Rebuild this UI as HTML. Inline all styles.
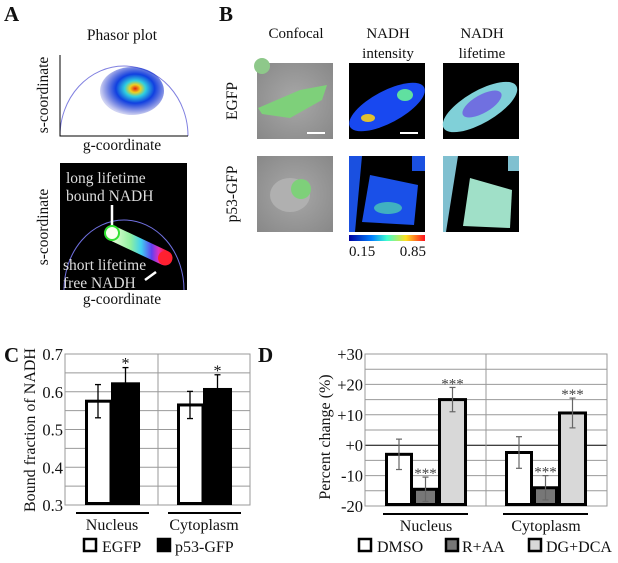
<!DOCTYPE html>
<html><head><meta charset="utf-8"><style>
body{margin:0;background:#fff;}
svg text{font-family:"Liberation Serif",serif;fill:#111;}
</style></head><body>
<svg id="fig" width="618" height="558" viewBox="0 0 618 558" xmlns="http://www.w3.org/2000/svg">
<defs>
<radialGradient id="blob" cx="0.55" cy="0.45" r="0.55">
<stop offset="0" stop-color="#e02010"/><stop offset="0.15" stop-color="#f0d020"/><stop offset="0.3" stop-color="#30d0e0"/><stop offset="0.55" stop-color="#1040e0"/><stop offset="1" stop-color="#1020c0" stop-opacity="0.2"/></radialGradient>
<linearGradient id="pill" x1="0" x2="1"><stop offset="0" stop-color="#e8ffd8"/><stop offset="0.35" stop-color="#90f0a0"/><stop offset="0.55" stop-color="#40d0f0"/><stop offset="0.75" stop-color="#6040f0"/><stop offset="0.88" stop-color="#e030c0"/><stop offset="1" stop-color="#ff2030"/></linearGradient>
<linearGradient id="cbar" x1="0" x2="1"><stop offset="0" stop-color="#0000a0"/><stop offset="0.3" stop-color="#0080ff"/><stop offset="0.5" stop-color="#40ffd0"/><stop offset="0.75" stop-color="#ffe020"/><stop offset="1" stop-color="#ff1020"/></linearGradient>
<radialGradient id="gray" cx="0.5" cy="0.5" r="0.7"><stop offset="0" stop-color="#a8a8a8"/><stop offset="1" stop-color="#888"/></radialGradient>
</defs>

<!-- Panel A -->
<text x="4" y="21" font-size="21" font-weight="bold">A</text>
<text x="122" y="40" font-size="15.5" text-anchor="middle">Phasor plot</text>
<g>
<path d="M60,136 A64,70 0 0 1 188,136" fill="none" stroke="#8080e0" stroke-width="1"/>
<ellipse cx="132" cy="91" rx="32" ry="24" fill="url(#blob)"/>
<path d="M60,55 L60,136 L188,136" fill="none" stroke="#000" stroke-width="1"/>
</g>
<text x="122" y="150" font-size="15.5" text-anchor="middle">g-coordinate</text>
<text transform="translate(48,95) rotate(-90)" font-size="15.5" text-anchor="middle">s-coordinate</text>
<g>
<rect x="60" y="163" width="127" height="127" fill="#000"/>
<path d="M64,290 A60,70 0 0 1 184,290" fill="none" stroke="#7070e0" stroke-width="1"/>
<line x1="112" y1="205" x2="112" y2="226" stroke="#fff" stroke-width="2.5"/>
<line x1="112" y1="233" x2="165" y2="258" stroke="url(#pill)" stroke-width="15" stroke-linecap="round"/>
<circle cx="112" cy="233" r="7" fill="#f8fff0" stroke="#30e030" stroke-width="2"/>
<circle cx="165" cy="258" r="7" fill="#ff2030"/>
<line x1="145" y1="280" x2="156" y2="272" stroke="#fff" stroke-width="2.5"/>
<text x="66" y="183" font-size="15.5" style="fill:#ddd">long lifetime</text>
<text x="66" y="201" font-size="15.5" style="fill:#ddd">bound NADH</text>
<text x="63" y="270" font-size="15.5" style="fill:#ddd">short lifetime</text>
<text x="63" y="288" font-size="15.5" style="fill:#ddd">free NADH</text>
</g>
<text x="122" y="304" font-size="15.5" text-anchor="middle">g-coordinate</text>
<text transform="translate(48,227) rotate(-90)" font-size="15.5" text-anchor="middle">s-coordinate</text>

<!-- Panel B -->
<text x="219" y="21" font-size="21" font-weight="bold">B</text>
<text x="296" y="38" font-size="15" text-anchor="middle">Confocal</text>
<text x="388" y="38" font-size="15" text-anchor="middle">NADH</text>
<text x="388" y="58" font-size="15" text-anchor="middle">intensity</text>
<text x="482" y="38" font-size="15" text-anchor="middle">NADH</text>
<text x="482" y="58" font-size="15" text-anchor="middle">lifetime</text>
<text transform="translate(237,101) rotate(-90)" font-size="15.5" text-anchor="middle">EGFP</text>
<text transform="translate(237,194) rotate(-90)" font-size="15.5" text-anchor="middle">p53-GFP</text>
<g>
<rect x="257" y="63" width="76" height="76" fill="url(#gray)"/>
<path d="M258,108 L300,90 L327,85 L322,100 L290,118 L262,114 Z" fill="#7ed07a"/>
<circle cx="262" cy="66" r="8" fill="#8ec88a"/>
<line x1="307" y1="133" x2="325" y2="133" stroke="#fff" stroke-width="2"/>
</g>
<g>
<rect x="349" y="63" width="76" height="76" fill="#000"/>
<ellipse cx="387" cy="107" rx="42" ry="16" transform="rotate(-28 387 107)" fill="#1848f0"/>
<ellipse cx="405" cy="95" rx="8" ry="6" fill="#60e0a0"/>
<ellipse cx="368" cy="118" rx="7" ry="4" fill="#e0c030"/>
<line x1="400" y1="133" x2="418" y2="133" stroke="#fff" stroke-width="2"/>
</g>
<g>
<rect x="443" y="63" width="76" height="76" fill="#000"/>
<ellipse cx="480" cy="107" rx="42" ry="16" transform="rotate(-30 480 107)" fill="#80d0d8"/>
<ellipse cx="482" cy="104" rx="22" ry="9" transform="rotate(-30 482 104)" fill="#7070e0"/>
</g>
<g>
<rect x="257" y="156" width="76" height="76" fill="url(#gray)"/>
<ellipse cx="290" cy="195" rx="20" ry="17" fill="#b0b0b0"/>
<circle cx="301" cy="189" r="10" fill="#7ed07a"/>
</g>
<g>
<rect x="349" y="156" width="76" height="76" fill="#000"/>
<path d="M349,156 L362,156 L355,232 L349,232 Z" fill="#1a50e0"/>
<path d="M370,175 L418,185 L414,225 L362,222 Z" fill="#1a50e8"/>
<ellipse cx="388" cy="208" rx="14" ry="6" fill="#40b0c0"/>
<rect x="412" y="156" width="13" height="15" fill="#1a50e0"/>
</g>
<g>
<rect x="443" y="156" width="76" height="76" fill="#000"/>
<path d="M443,156 L458,156 L446,232 L443,232 Z" fill="#80c0d0"/>
<path d="M470,178 L512,190 L510,228 L463,226 Z" fill="#a0e0c8"/>
<rect x="508" y="156" width="11" height="15" fill="#80c0d0"/>
</g>
<rect x="349" y="235" width="76" height="6" fill="url(#cbar)"/>
<text x="349" y="256" font-size="15">0.15</text>
<text x="426" y="256" font-size="15" text-anchor="end">0.85</text>

<!-- Panel C -->
<text x="4" y="362" font-size="21" font-weight="bold">C</text>
<g id="chartC"></g>
<text transform="translate(35,430) rotate(-90)" font-size="16" text-anchor="middle">Bound fraction of NADH</text>
<!-- Panel D -->
<text x="258" y="362" font-size="21" font-weight="bold">D</text>
<g id="chartD"></g>
<text transform="translate(330,437) rotate(-90)" font-size="16" text-anchor="middle">Percent change (%)</text>
</svg>
<script>
const NS="http://www.w3.org/2000/svg";
// Chart C data
const cGroups=["Nucleus","Cytoplasm"];
const cSeries=["EGFP","p53-GFP"];
const cEGFP=[0.575,0.565];
const cEGFPerr=[0.044,0.036];
const cP53=[0.625,0.61];
const cP53err=[0.039,0.035];
const cTicks=["0.3","0.4","0.5","0.6","0.7"];
const cStars=["*","*"];
// Chart D data
const dGroups=["Nucleus","Cytoplasm"];
const dSeries=["DMSO","R+AA","DG+DCA"];
const dDMSO=[-3,-2.4];
const dDMSOerr=[5,5.2];
const dRAA=[-14.5,-14];
const dRAAerr=[4,4];
const dDG=[15,10.6];
const dDGerr=[4,4.9];
const dTicks=["-20","-10","+0","+10","+20","+30"];
const dStars=[["","***","***"],["","***","***"]];

function mk(tag,attrs,parent){const e=document.createElementNS(NS,tag);for(const k in attrs)e.setAttribute(k,attrs[k]);parent.appendChild(e);return e;}

// ---- C ----
(function(){
const g=document.getElementById('chartC');
const L=65,R=250,T=354,B=505,ymin=0.3,ymax=0.7;
const y=v=>B-(v-ymin)/(ymax-ymin)*(B-T);
for(let v=0.3;v<=0.7001;v+=0.05){const l=mk('line',{x1:L,x2:R,y1:y(v),y2:y(v),stroke:'#999','stroke-width':1},g);}
mk('line',{x1:158,x2:158,y1:T,y2:B,stroke:'#999'},g);
mk('rect',{x:L,y:T,width:R-L,height:B-T,fill:'none',stroke:'#999'},g);
cTicks.forEach(t=>{const e=mk('text',{x:L-2,y:y(parseFloat(t))+6,'font-size':16.5,'text-anchor':'end'},g);e.textContent=t;});
const gx=[85,177],bw=26,bw2=29;
cGroups.forEach((name,i)=>{
 const x0=gx[i];
 const b1=mk('rect',{x:x0+1.5,y:y(cEGFP[i]),width:bw-1.5,height:B-y(cEGFP[i])-1.5,fill:'#fff',stroke:'#000','stroke-width':3},g);
 
 const b2=mk('rect',{x:x0+bw,y:y(cP53[i]),width:bw2,height:B-y(cP53[i]),fill:'#000'},g);
 
 [[x0+bw/2,cEGFP[i],cEGFPerr[i]],[x0+bw+bw2/2,cP53[i],cP53err[i]]].forEach(([cx,v,e])=>{
  mk('line',{x1:cx,x2:cx,y1:y(v+e),y2:y(v-e),stroke:'#000','stroke-width':1.3},g);
  mk('line',{x1:cx-3,x2:cx+3,y1:y(v+e),y2:y(v+e),stroke:'#000','stroke-width':1.3},g);
  mk('line',{x1:cx-3,x2:cx+3,y1:y(v-e),y2:y(v-e),stroke:'#000','stroke-width':1.3},g);
 });
 const s=mk('text',{x:x0+bw+bw2/2,y:y(cP53[i]+cP53err[i])+1,'font-size':16,'text-anchor':'middle'},g);s.textContent=cStars[i];
 mk('line',{x1:x0-9,x2:x0+64,y1:513,y2:513,stroke:'#000','stroke-width':2},g);
 const t=mk('text',{x:x0+27,y:530,'font-size':16,'text-anchor':'middle'},g);t.textContent=name;
 
});
const lg=[[84,'#fff',102],[158,'#000',175]];
cSeries.forEach((s,i)=>{
 const r=mk('rect',{x:lg[i][0],y:539,width:12,height:12,fill:lg[i][1],stroke:'#000','stroke-width':2.5},g);
 
 const t=mk('text',{x:lg[i][2],y:552,'font-size':16},g);t.textContent=s;
 
});
})();

// ---- D ----
(function(){
const g=document.getElementById('chartD');
const L=365,R=607,T=354,B=506,ymin=-20,ymax=30;
const y=v=>B-(v-ymin)/(ymax-ymin)*(B-T);
for(let v=-20;v<=30;v+=5){const l=mk('line',{x1:L,x2:R,y1:y(v),y2:y(v),stroke:v===0?'#000':'#999','stroke-width':1},g);}
mk('line',{x1:486,x2:486,y1:T,y2:B,stroke:'#999'},g);
mk('rect',{x:L,y:T,width:R-L,height:B-T,fill:'none',stroke:'#999'},g);
dTicks.forEach(t=>{const e=mk('text',{x:L-2,y:y(parseFloat(t))+6,'font-size':16.5,'text-anchor':'end'},g);e.textContent=t;});
const gx=[385,505],ws=[28,25,29],fills=['#fff','#777','#d8d8d8'];
const vals=[dDMSO,dRAA,dDG],errs=[dDMSOerr,dRAAerr,dDGerr];
dGroups.forEach((name,i)=>{
 let x=gx[i];
 vals.forEach((arr,j)=>{
  const v=arr[i],w=ws[j];
  const top=y(Math.max(v,ymin)),bot=B;
  const b=mk('rect',{x:x+1.5,y:top,width:w-3,height:bot-top-1.5,fill:fills[j],stroke:'#000','stroke-width':3},g);
  
  
  const cx=x+w/2,e=errs[j][i];
  mk('line',{x1:cx,x2:cx,y1:y(v+e),y2:y(v-e),stroke:'#666','stroke-width':1.2},g);
  mk('line',{x1:cx-3,x2:cx+3,y1:y(v+e),y2:y(v+e),stroke:'#666','stroke-width':1.2},g);
  mk('line',{x1:cx-3,x2:cx+3,y1:y(v-e),y2:y(v-e),stroke:'#666','stroke-width':1.2},g);
  if(dStars[i][j]){const s=mk('text',{x:cx,y:y(v+e)+1,'font-size':15,'text-anchor':'middle',style:'fill:#444'},g);s.textContent=dStars[i][j];}
  x+=w;
 });
 mk('line',{x1:gx[i]-2,x2:x+1,y1:514,y2:514,stroke:'#000','stroke-width':2},g);
 const t=mk('text',{x:(gx[i]+x)/2,y:531,'font-size':16,'text-anchor':'middle'},g);t.textContent=name;
 
});
const lg=[[359,377],[446,462],[529,546]];
dSeries.forEach((s,i)=>{
 const r=mk('rect',{x:lg[i][0],y:539,width:12,height:12,fill:fills[i],stroke:'#000','stroke-width':2.5},g);
 
 const t=mk('text',{x:lg[i][1],y:552,'font-size':16},g);t.textContent=s;
 
});
})();
</script>
</body></html>
